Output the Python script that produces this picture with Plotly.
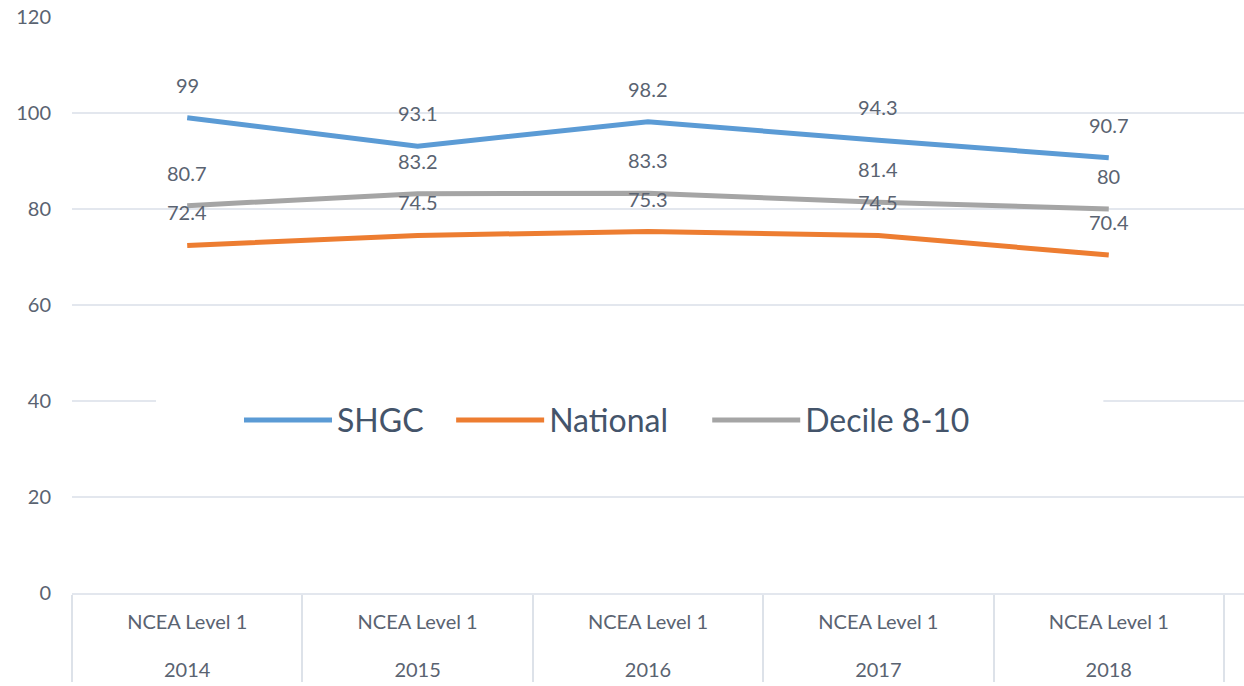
import plotly.graph_objects as go

years = ["2014", "2015", "2016", "2017", "2018"]
level = ["NCEA Level 1"] * 5
shgc = [99, 93.1, 98.2, 94.3, 90.7]
national = [72.4, 74.5, 75.3, 74.5, 70.4]
decile = [80.7, 83.2, 83.3, 81.4, 80]

series = [
    ("SHGC", shgc, "#5B9BD5"),
    ("National", national, "#ED7D31"),
    ("Decile 8-10", decile, "#A5A5A5"),
]

FONT = "Lato, 'Open Sans', sans-serif"
TXT = "#5a6371"
GRID = "#e3e7ee"


def lab(t):
    return f"<span style='font-size:20px'>{t}</span>"


fig = go.Figure()
# inner label gets a blank second line so the year row sits lower, as in the reference
x = [[lab(y) for y in years], [lab(lv) + "<br> " for lv in level]]
legend_ids = ["legend", "legend2", "legend3"]
for (name, vals, col), lg in zip(series, legend_ids):
    fig.add_trace(go.Scatter(
        x=x, y=vals, name=name, mode="lines", legend=lg,
        line=dict(color=col, width=5),
    ))

annotations = []
for name, vals, col in series:
    for i, v in enumerate(vals):
        annotations.append(dict(
            x=i, y=v, xref="x", yref="y",
            text=f"{v:g}", showarrow=False, yshift=33,
            font=dict(family=FONT, size=20, color=TXT),
        ))

leg_common = dict(
    orientation="h", xanchor="left", y=0.30, yanchor="middle",
    bgcolor="rgba(0,0,0,0)", font=dict(family=FONT, size=32, color="#44546A"),
    itemwidth=88,
)

fig.update_layout(
    width=1244, height=686,
    margin=dict(l=72, r=0, t=17, b=93),
    paper_bgcolor="white", plot_bgcolor="white",
    font=dict(family=FONT, size=20, color=TXT),
    showlegend=True,
    legend=dict(x=0.1425, **leg_common),
    legend2=dict(x=0.3235, **leg_common),
    legend3=dict(x=0.542, **leg_common),
    annotations=annotations,
    shapes=[dict(
        type="rect", xref="paper", yref="paper",
        x0=0.0717, x1=0.88, y0=0.26, y1=0.345,
        fillcolor="white", line=dict(width=0), layer="above",
    )],
)
fig.update_yaxes(
    range=[0, 120], dtick=20, showgrid=True, gridcolor=GRID, gridwidth=1.5,
    zeroline=False, showline=False, ticklabelstandoff=20,
    ticklabeloverflow="allow", automargin=False,
    tickfont=dict(family=FONT, size=20, color=TXT),
)
fig.update_xaxes(
    type="multicategory", range=[-0.5, 4.587], automargin=False,
    showgrid=False, showline=True, linecolor=GRID, linewidth=1.5,
    showdividers=True, dividercolor="#dde2e9", dividerwidth=1.5,
    ticks="", ticklabelstandoff=8,
    tickfont=dict(family=FONT, size=22, color=TXT),
)

fig.write_html(
    "out.html",
    config={"displayModeBar": False},
    post_script="document.body.style.margin='0';document.body.style.overflow='hidden';",
)
